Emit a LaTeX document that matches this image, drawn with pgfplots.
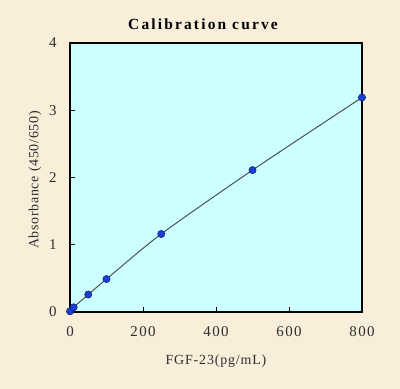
\documentclass[border=0pt]{standalone}
\usepackage{pgfplots}
\pgfplotsset{compat=1.18}
\usepackage{fontspec}
\setmainfont{Liberation Serif}
\definecolor{bgbeige}{HTML}{F9EEDA}
\definecolor{plotcyan}{HTML}{CCFFFF}
\definecolor{markblue}{HTML}{1A3FD6}
\definecolor{markedge}{HTML}{0A1A70}
\definecolor{curvegray}{HTML}{4A5452}
\begin{document}
\begin{tikzpicture}[x=1bp,y=1bp]
\fill[bgbeige] (0,0) rectangle (400,389);
\begin{axis}[
  at={(70bp,77bp)}, anchor=south west,
  scale only axis, width=292bp, height=269bp,
  xmin=0, xmax=800, ymin=0, ymax=4,
  xtick={0,200,400,600,800}, ytick={0,1,2,3,4},
  xtick pos=bottom, ytick pos=left,
  tick align=inside, major tick length=5bp,
  axis line style={line width=1.8bp, black},
  every tick/.style={black, line width=0.8bp},
  axis background/.style={fill=plotcyan},
  /pgf/number format/assume math mode=true,
  ticklabel style={font=\fontsize{15}{15}\selectfont\addfontfeature{LetterSpace=9}, text=black!82},
  xticklabel style={yshift=-11bp},
  yticklabel style={xshift=-10bp},
  clip=false,
]
\addplot[curvegray, line width=1bp, smooth, tension=0.45] coordinates {
  (0,0.01) (10,0.07) (50,0.26) (100,0.49) (250,1.16) (500,2.11) (800,3.19)
};
\addplot[only marks, mark=*, mark size=3.6bp, mark options={fill=markblue, draw=markedge, line width=0.5bp}] coordinates {
  (0,0.01) (10,0.07) (50,0.26) (100,0.49) (250,1.16) (500,2.11) (800,3.19)
};
\end{axis}
\node[font=\fontsize{15.5}{15.5}\selectfont\bfseries\addfontfeature{LetterSpace=14}] at (203,365) {Calibration curve};
\node[font=\fontsize{14}{14}\selectfont\addfontfeature{LetterSpace=6}, text=black!82] at (216,28) {FGF-23(pg/mL)};
\node[font=\fontsize{14}{14}\selectfont\addfontfeature{LetterSpace=5}, text=black!82, rotate=90] at (35,209) {Absorbance (450/650)};
\end{tikzpicture}
\end{document}
